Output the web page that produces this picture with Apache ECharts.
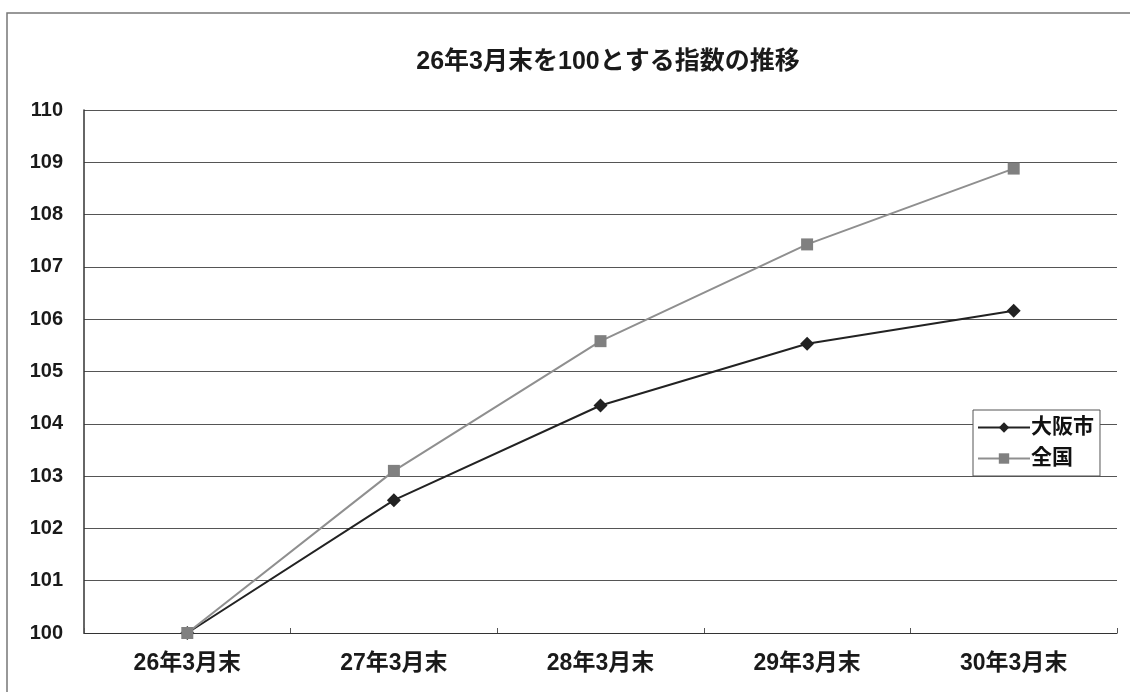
<!DOCTYPE html>
<html>
<head>
<meta charset="utf-8">
<style>
html,body{margin:0;padding:0;background:#fff;}
#chart{width:1130px;height:692px;}
</style>
<script src="https://cdn.jsdelivr.net/npm/echarts@6/dist/echarts.min.js"></script>
</head>
<body>
<div id="chart"></div>
<script>
const categories = ['26年3月末','27年3月末','28年3月末','29年3月末','30年3月末'];
const osakaValues = [100, 102.54, 104.35, 105.53, 106.16];
const zenkokuValues = [100, 103.1, 105.58, 107.43, 108.88];
const seriesNames = ['大阪市','全国'];
const titleText = '26年3月末を100とする指数の推移';

const font = '"Liberation Sans","Noto Sans CJK JP",sans-serif';
const chart = echarts.init(document.getElementById('chart'));
chart.setOption({
  backgroundColor: '#fff',
  animation: false,
  title: {
    text: titleText,
    left: 603, top: 45, textAlign: 'center',
    textStyle: {fontFamily: font, fontSize: 25, fontWeight: 'bold', color: '#1a1a1a'}
  },
  graphic: [{
    type: 'polyline',
    shape: {points: [[7, 692], [7, 13], [1130, 13]]},
    style: {stroke: '#777', lineWidth: 1.5, fill: null}
  }],
  legend: {
    orient: 'vertical',
    left: 973, top: 410,
    itemWidth: 52, itemHeight: 13, itemGap: 10,
    padding: [7, 6, 7, 4],
    borderColor: '#555', borderWidth: 1,
    backgroundColor: '#fff',
    textStyle: {fontFamily: font, fontSize: 21, fontWeight: 'bold', color: '#111', padding: [0,0,0,-4]},
    data: seriesNames
  },
  grid: {left: 84, right: 13, top: 110, bottom: 59, containLabel: false},
  xAxis: {
    type: 'category',
    data: categories,
    boundaryGap: true,
    axisLine: {lineStyle: {color: '#333', width: 1.2}},
    axisTick: {show: true, inside: true, length: 5, lineStyle: {color: '#555'}},
    axisLabel: {fontFamily: font, fontSize: 23, fontWeight: 'bold', color: '#1a1a1a', margin: 19}
  },
  yAxis: {
    type: 'value',
    min: 100, max: 110, interval: 1,
    axisLine: {show: true, lineStyle: {color: '#333', width: 1.5}},
    axisTick: {show: false},
    splitLine: {lineStyle: {color: '#555', width: 1.2}},
    axisLabel: {fontFamily: font, fontSize: 20, fontWeight: 'bold', color: '#1a1a1a', margin: 21}
  },
  series: [
    {
      name: seriesNames[0], type: 'line', data: osakaValues,
      symbol: 'diamond', symbolSize: 14,
      lineStyle: {color: '#222', width: 2},
      itemStyle: {color: '#222'}
    },
    {
      name: seriesNames[1], type: 'line', data: zenkokuValues,
      symbol: 'rect', symbolSize: 12,
      lineStyle: {color: '#8f8f8f', width: 2},
      itemStyle: {color: '#808080'}
    }
  ]
});
</script>
</body>
</html>
